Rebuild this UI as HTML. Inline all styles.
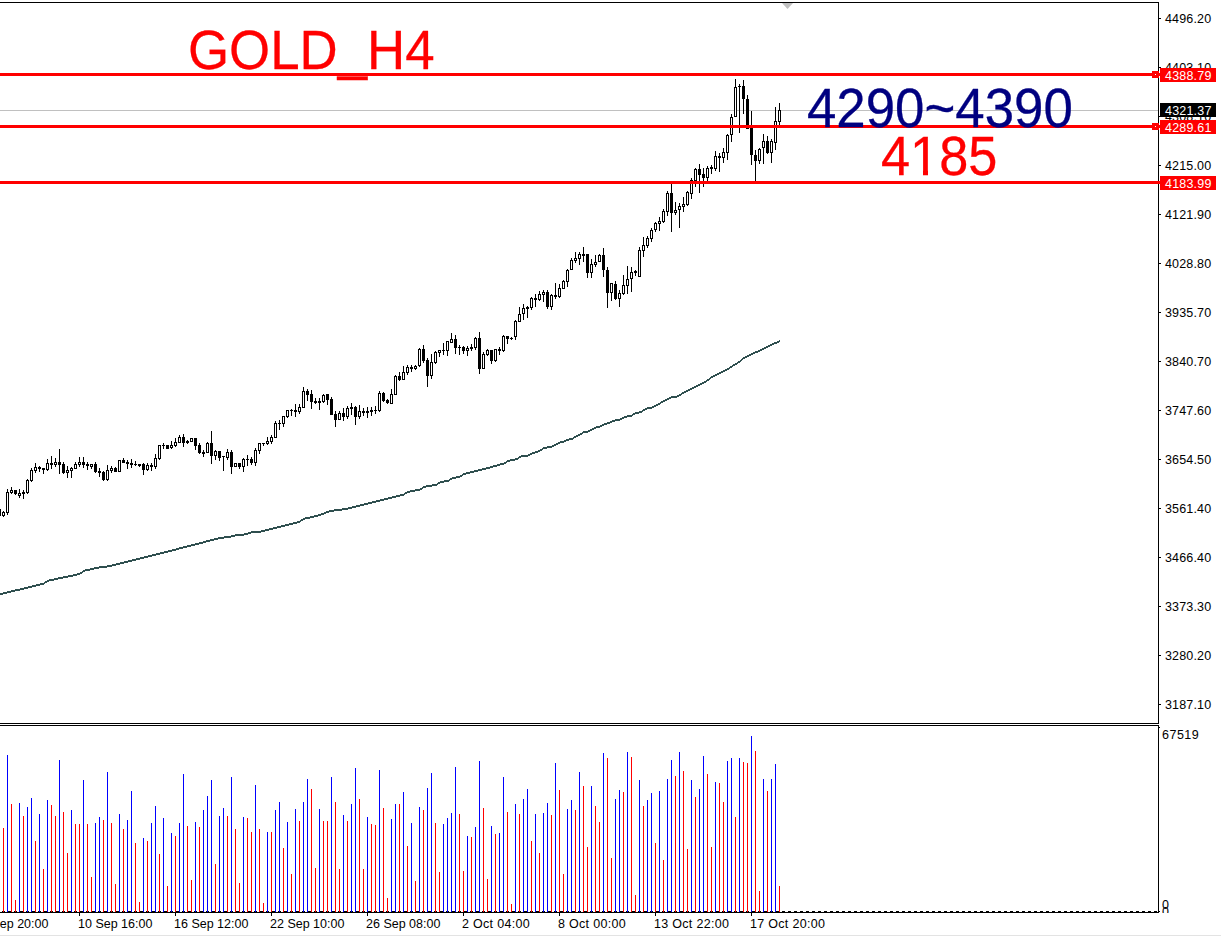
<!DOCTYPE html>
<html><head><meta charset="utf-8"><title>GOLD_H4</title>
<style>
html,body{margin:0;padding:0;background:#fff;}
body{width:1221px;height:937px;position:relative;overflow:hidden;font-family:"Liberation Sans",sans-serif;}
.pl{position:absolute;left:1165px;font-size:12.5px;line-height:14px;height:14px;color:#000;white-space:nowrap;letter-spacing:0.15px;}
.bx{position:absolute;left:1160px;width:56px;height:14px;font-size:12.5px;line-height:14px;color:#fff;white-space:nowrap;box-sizing:border-box;padding-left:5px;padding-top:1px;overflow:hidden;letter-spacing:0.2px;}
.tl{position:absolute;top:917px;font-size:12.5px;line-height:14px;color:#000;white-space:nowrap;letter-spacing:0.2px;margin-left:-1px;}
.big{position:absolute;font-size:55.6px;line-height:60px;white-space:nowrap;transform:scaleX(0.95);transform-origin:0 0;-webkit-text-stroke:0.3px currentColor;}
</style></head><body>
<svg width="1221" height="937" viewBox="0 0 1221 937" style="position:absolute;left:0;top:0">
<g shape-rendering="crispEdges">
<rect x="0" y="2" width="1159" height="1" fill="#000"/>
<rect x="1158" y="2" width="1" height="722" fill="#000"/>
<rect x="0" y="723" width="1159" height="1" fill="#000"/>
<rect x="0" y="725" width="1159" height="1" fill="#000"/>
<rect x="1158" y="725" width="1" height="188" fill="#000"/>
<rect x="0" y="912" width="1159" height="1" fill="#000"/>
<rect x="1159" y="727" width="1" height="1" fill="#000"/>
<rect x="1159" y="911" width="1" height="1" fill="#000"/>
<rect x="0" y="935" width="1221" height="1" fill="#e3e3e3"/>
<path d="M782 3h11l-5.5 6z" fill="#c0c0c0" shape-rendering="auto"/>
<rect x="0" y="110" width="1158" height="1" fill="#c0c0c0"/>
<rect x="1159" y="18" width="2" height="1" fill="#000"/>
<rect x="1159" y="67" width="2" height="1" fill="#000"/>
<rect x="1159" y="116" width="2" height="1" fill="#000"/>
<rect x="1159" y="165" width="2" height="1" fill="#000"/>
<rect x="1159" y="214" width="2" height="1" fill="#000"/>
<rect x="1159" y="263" width="2" height="1" fill="#000"/>
<rect x="1159" y="312" width="2" height="1" fill="#000"/>
<rect x="1159" y="361" width="2" height="1" fill="#000"/>
<rect x="1159" y="410" width="2" height="1" fill="#000"/>
<rect x="1159" y="459" width="2" height="1" fill="#000"/>
<rect x="1159" y="508" width="2" height="1" fill="#000"/>
<rect x="1159" y="557" width="2" height="1" fill="#000"/>
<rect x="1159" y="606" width="2" height="1" fill="#000"/>
<rect x="1159" y="655" width="2" height="1" fill="#000"/>
<rect x="1159" y="704" width="2" height="1" fill="#000"/>
<rect x="79" y="913" width="1" height="3" fill="#000"/>
<rect x="175" y="913" width="1" height="3" fill="#000"/>
<rect x="271" y="913" width="1" height="3" fill="#000"/>
<rect x="367" y="913" width="1" height="3" fill="#000"/>
<rect x="463" y="913" width="1" height="3" fill="#000"/>
<rect x="559" y="913" width="1" height="3" fill="#000"/>
<rect x="655" y="913" width="1" height="3" fill="#000"/>
<rect x="751" y="913" width="1" height="3" fill="#000"/>
<path d="M0 509h1v7h-1zM3 511h1v6h-1zM2 512h3v4h-3zM7 489h1v26h-1zM6 492h3v21h-3zM11 487h1v7h-1zM10 490h3v3h-3zM15 490h1v5h-1zM14 490h3v4h-3zM19 489h1v9h-1zM18 493h3v3h-3zM23 490h1v9h-1zM22 492h3v2h-3zM27 479h1v15h-1zM26 480h3v13h-3zM31 468h1v14h-1zM30 470h3v11h-3zM35 463h1v10h-1zM34 467h3v4h-3zM39 466h1v6h-1zM38 467h3v2h-3zM43 468h1v6h-1zM42 468h3v2h-3zM47 459h1v12h-1zM46 463h3v7h-3zM51 456h1v13h-1zM50 463h3v2h-3zM55 458h1v9h-1zM54 462h3v3h-3zM59 449h1v25h-1zM58 462h3v3h-3zM63 462h1v12h-1zM62 464h3v9h-3zM67 466h1v12h-1zM66 470h3v3h-3zM71 467h1v11h-1zM70 468h3v3h-3zM75 462h1v7h-1zM74 464h3v5h-3zM79 457h1v10h-1zM78 462h3v3h-3zM83 457h1v11h-1zM82 462h3v3h-3zM87 462h1v8h-1zM86 464h3v2h-3zM91 464h1v5h-1zM90 464h3v3h-3zM95 462h1v11h-1zM94 464h3v8h-3zM99 468h1v9h-1zM98 471h3v2h-3zM103 471h1v10h-1zM102 472h3v8h-3zM107 465h1v16h-1zM106 470h3v10h-3zM111 466h1v7h-1zM110 468h3v3h-3zM115 467h1v5h-1zM114 468h3v4h-3zM119 460h1v12h-1zM118 460h3v12h-3zM123 458h1v5h-1zM122 460h3v3h-3zM127 460h1v9h-1zM126 462h3v2h-3zM131 459h1v9h-1zM130 463h3v2h-3zM135 461h1v5h-1zM134 464h3v1h-3zM139 464h1v3h-1zM138 464h3v2h-3zM143 463h1v12h-1zM142 464h3v6h-3zM147 463h1v8h-1zM146 465h3v5h-3zM151 463h1v8h-1zM150 465h3v2h-3zM155 454h1v15h-1zM154 458h3v9h-3zM159 445h1v15h-1zM158 445h3v14h-3zM163 443h1v6h-1zM162 445h3v1h-3zM167 445h1v4h-1zM166 445h3v4h-3zM171 441h1v8h-1zM170 445h3v3h-3zM175 438h1v9h-1zM174 442h3v4h-3zM179 435h1v8h-1zM178 437h3v6h-3zM183 434h1v13h-1zM182 437h3v6h-3zM187 440h1v4h-1zM186 441h3v2h-3zM191 438h1v4h-1zM190 438h3v4h-3zM195 438h1v12h-1zM194 438h3v8h-3zM199 443h1v11h-1zM198 445h3v8h-3zM203 450h1v7h-1zM202 452h3v2h-3zM207 442h1v11h-1zM206 443h3v10h-3zM211 431h1v33h-1zM210 443h3v13h-3zM215 450h1v10h-1zM214 451h3v5h-3zM219 451h1v10h-1zM218 451h3v7h-3zM223 456h1v15h-1zM222 456h3v1h-3zM227 449h1v11h-1zM226 452h3v6h-3zM231 450h1v24h-1zM230 452h3v15h-3zM235 463h1v4h-1zM234 463h3v4h-3zM239 463h1v6h-1zM238 463h3v4h-3zM243 458h1v14h-1zM242 459h3v8h-3zM247 455h1v11h-1zM246 459h3v1h-3zM251 457h1v8h-1zM250 459h3v4h-3zM255 448h1v18h-1zM254 450h3v13h-3zM259 443h1v11h-1zM258 443h3v8h-3zM263 443h1v3h-1zM262 443h3v1h-3zM267 437h1v8h-1zM266 441h3v3h-3zM271 435h1v9h-1zM270 437h3v5h-3zM275 421h1v17h-1zM274 423h3v15h-3zM279 420h1v10h-1zM278 423h3v1h-3zM283 416h1v11h-1zM282 416h3v8h-3zM287 410h1v8h-1zM286 410h3v7h-3zM291 409h1v7h-1zM290 410h3v1h-3zM295 404h1v13h-1zM294 410h3v2h-3zM299 404h1v10h-1zM298 407h3v5h-3zM303 387h1v21h-1zM302 391h3v17h-3zM307 389h1v12h-1zM306 391h3v4h-3zM311 390h1v19h-1zM310 394h3v8h-3zM315 398h1v6h-1zM314 401h3v2h-3zM319 398h1v12h-1zM318 401h3v2h-3zM323 394h1v9h-1zM322 395h3v7h-3zM327 394h1v11h-1zM326 394h3v6h-3zM331 397h1v18h-1zM330 399h3v16h-3zM335 411h1v16h-1zM334 414h3v6h-3zM339 411h1v9h-1zM338 413h3v7h-3zM343 408h1v13h-1zM342 413h3v4h-3zM347 406h1v13h-1zM346 408h3v9h-3zM351 403h1v12h-1zM350 407h3v2h-3zM355 406h1v19h-1zM354 407h3v10h-3zM359 405h1v14h-1zM358 411h3v6h-3zM363 408h1v8h-1zM362 411h3v2h-3zM367 407h1v11h-1zM366 411h3v2h-3zM371 407h1v9h-1zM370 410h3v2h-3zM375 406h1v8h-1zM374 410h3v1h-3zM379 391h1v21h-1zM378 393h3v18h-3zM383 392h1v10h-1zM382 393h3v8h-3zM387 399h1v5h-1zM386 400h3v3h-3zM391 389h1v15h-1zM390 394h3v10h-3zM395 375h1v20h-1zM394 376h3v19h-3zM399 372h1v9h-1zM398 376h3v4h-3zM403 366h1v14h-1zM402 372h3v8h-3zM407 365h1v10h-1zM406 367h3v6h-3zM411 365h1v7h-1zM410 367h3v2h-3zM415 365h1v5h-1zM414 366h3v3h-3zM419 348h1v19h-1zM418 349h3v17h-3zM423 345h1v18h-1zM422 349h3v12h-3zM427 358h1v29h-1zM426 360h3v16h-3zM431 354h1v25h-1zM430 362h3v14h-3zM435 351h1v13h-1zM434 352h3v11h-3zM439 350h1v7h-1zM438 350h3v3h-3zM443 343h1v12h-1zM442 350h3v1h-3zM447 341h1v15h-1zM446 341h3v10h-3zM451 333h1v10h-1zM450 339h3v4h-3zM455 335h1v19h-1zM454 339h3v9h-3zM459 345h1v10h-1zM458 347h3v1h-3zM463 346h1v8h-1zM462 347h3v4h-3zM467 346h1v10h-1zM466 348h3v3h-3zM471 344h1v7h-1zM470 347h3v2h-3zM475 337h1v13h-1zM474 338h3v10h-3zM479 332h1v42h-1zM478 338h3v31h-3zM483 352h1v17h-1zM482 354h3v15h-3zM487 349h1v7h-1zM486 350h3v5h-3zM491 350h1v14h-1zM490 350h3v11h-3zM495 349h1v13h-1zM494 349h3v12h-3zM499 347h1v8h-1zM498 349h3v2h-3zM503 335h1v17h-1zM502 336h3v15h-3zM507 336h1v8h-1zM506 336h3v3h-3zM511 337h1v3h-1zM510 338h3v1h-3zM515 320h1v20h-1zM514 321h3v16h-3zM519 307h1v15h-1zM518 314h3v8h-3zM523 304h1v16h-1zM522 308h3v6h-3zM527 306h1v12h-1zM526 307h3v2h-3zM531 297h1v13h-1zM530 298h3v10h-3zM535 294h1v13h-1zM534 298h3v2h-3zM539 291h1v10h-1zM538 294h3v6h-3zM543 290h1v12h-1zM542 292h3v3h-3zM547 290h1v19h-1zM546 292h3v15h-3zM551 294h1v16h-1zM550 295h3v12h-3zM555 283h1v16h-1zM554 295h3v2h-3zM559 284h1v14h-1zM558 288h3v9h-3zM563 280h1v9h-1zM562 281h3v8h-3zM567 269h1v18h-1zM566 270h3v12h-3zM571 258h1v12h-1zM570 260h3v10h-3zM575 252h1v11h-1zM574 258h3v3h-3zM579 252h1v13h-1zM578 254h3v5h-3zM583 247h1v15h-1zM582 254h3v2h-3zM587 254h1v24h-1zM586 254h3v19h-3zM591 259h1v19h-1zM590 264h3v9h-3zM595 255h1v12h-1zM594 262h3v3h-3zM599 254h1v8h-1zM598 255h3v7h-3zM603 248h1v29h-1zM602 255h3v15h-3zM607 267h1v41h-1zM606 270h3v23h-3zM611 283h1v18h-1zM610 283h3v10h-3zM615 281h1v19h-1zM614 284h3v15h-3zM619 290h1v17h-1zM618 293h3v6h-3zM623 275h1v20h-1zM622 285h3v9h-3zM627 266h1v28h-1zM626 279h3v7h-3zM631 267h1v25h-1zM630 272h3v7h-3zM635 270h1v6h-1zM634 271h3v2h-3zM639 247h1v30h-1zM638 250h3v27h-3zM643 237h1v20h-1zM642 245h3v6h-3zM647 236h1v12h-1zM646 238h3v8h-3zM651 228h1v14h-1zM650 230h3v9h-3zM655 222h1v10h-1zM654 223h3v7h-3zM659 217h1v14h-1zM658 221h3v3h-3zM663 209h1v14h-1zM662 211h3v11h-3zM667 191h1v25h-1zM666 193h3v19h-3zM671 184h1v48h-1zM670 193h3v20h-3zM675 202h1v13h-1zM674 210h3v3h-3zM679 203h1v25h-1zM678 206h3v4h-3zM683 197h1v15h-1zM682 204h3v3h-3zM687 191h1v15h-1zM686 192h3v13h-3zM691 178h1v21h-1zM690 180h3v14h-3zM695 168h1v19h-1zM694 169h3v12h-3zM699 164h1v29h-1zM698 169h3v6h-3zM703 168h1v19h-1zM702 174h3v4h-3zM707 166h1v15h-1zM706 168h3v10h-3zM711 165h1v9h-1zM710 167h3v2h-3zM715 151h1v20h-1zM714 156h3v13h-3zM719 153h1v19h-1zM718 156h3v2h-3zM723 148h1v15h-1zM722 152h3v6h-3zM727 134h1v26h-1zM726 135h3v18h-3zM731 114h1v28h-1zM730 117h3v18h-3zM735 79h1v38h-1zM734 87h3v30h-3zM739 84h1v49h-1zM738 86h3v1h-3zM743 80h1v34h-1zM742 86h3v13h-3zM747 95h1v34h-1zM746 99h3v30h-3zM751 111h1v54h-1zM750 128h3v27h-3zM755 150h1v31h-1zM754 155h3v6h-3zM759 148h1v16h-1zM758 149h3v12h-3zM763 134h1v30h-1zM762 141h3v7h-3zM767 136h1v18h-1zM766 141h3v12h-3zM771 139h1v24h-1zM770 141h3v12h-3zM775 107h1v43h-1zM774 121h3v22h-3zM779 103h1v22h-1zM778 110h3v12h-3z" fill="#000"/>
<path d="M3 513h1v2h-1zM7 493h1v19h-1zM11 491h1v1h-1zM19 494h1v1h-1zM27 481h1v11h-1zM31 471h1v9h-1zM35 468h1v2h-1zM47 464h1v5h-1zM55 463h1v1h-1zM67 471h1v1h-1zM71 469h1v1h-1zM75 465h1v3h-1zM79 463h1v1h-1zM91 465h1v1h-1zM107 471h1v8h-1zM111 469h1v1h-1zM119 461h1v10h-1zM147 466h1v3h-1zM155 459h1v7h-1zM159 446h1v12h-1zM171 446h1v1h-1zM175 443h1v2h-1zM179 438h1v4h-1zM191 439h1v2h-1zM207 444h1v8h-1zM215 452h1v3h-1zM227 453h1v4h-1zM235 464h1v2h-1zM243 460h1v6h-1zM255 451h1v11h-1zM259 444h1v6h-1zM267 442h1v1h-1zM271 438h1v3h-1zM275 424h1v13h-1zM283 417h1v6h-1zM287 411h1v5h-1zM299 408h1v3h-1zM303 392h1v15h-1zM323 396h1v5h-1zM339 414h1v5h-1zM347 409h1v7h-1zM359 412h1v4h-1zM379 394h1v16h-1zM391 395h1v8h-1zM395 377h1v17h-1zM403 373h1v6h-1zM407 368h1v4h-1zM415 367h1v1h-1zM419 350h1v15h-1zM431 363h1v12h-1zM435 353h1v9h-1zM439 351h1v1h-1zM447 342h1v8h-1zM451 340h1v2h-1zM467 349h1v1h-1zM475 339h1v8h-1zM483 355h1v13h-1zM487 351h1v3h-1zM495 350h1v10h-1zM503 337h1v13h-1zM515 322h1v14h-1zM519 315h1v6h-1zM523 309h1v4h-1zM531 299h1v8h-1zM539 295h1v4h-1zM543 293h1v1h-1zM551 296h1v10h-1zM559 289h1v7h-1zM563 282h1v6h-1zM567 271h1v10h-1zM571 261h1v8h-1zM575 259h1v1h-1zM579 255h1v3h-1zM591 265h1v7h-1zM595 263h1v1h-1zM599 256h1v5h-1zM611 284h1v8h-1zM619 294h1v4h-1zM623 286h1v7h-1zM627 280h1v5h-1zM631 273h1v5h-1zM639 251h1v25h-1zM643 246h1v4h-1zM647 239h1v6h-1zM651 231h1v7h-1zM655 224h1v5h-1zM659 222h1v1h-1zM663 212h1v9h-1zM667 194h1v17h-1zM675 211h1v1h-1zM679 207h1v2h-1zM683 205h1v1h-1zM687 193h1v11h-1zM691 181h1v12h-1zM695 170h1v10h-1zM707 169h1v8h-1zM715 157h1v11h-1zM723 153h1v4h-1zM727 136h1v16h-1zM731 118h1v16h-1zM735 88h1v28h-1zM759 150h1v10h-1zM763 142h1v5h-1zM771 142h1v10h-1zM775 122h1v20h-1zM779 111h1v10h-1z" fill="#fff"/>
<path d="M2 911h3v1h-3zM8 911h3v1h-3zM14 911h3v1h-3zM20 911h3v1h-3zM26 911h3v1h-3zM32 911h3v1h-3zM38 911h3v1h-3zM44 911h3v1h-3zM50 911h3v1h-3zM56 911h3v1h-3zM62 911h3v1h-3zM68 911h3v1h-3zM74 911h3v1h-3zM80 911h3v1h-3zM86 911h3v1h-3zM92 911h3v1h-3zM98 911h3v1h-3zM104 911h3v1h-3zM110 911h3v1h-3zM116 911h3v1h-3zM122 911h3v1h-3zM128 911h3v1h-3zM134 911h3v1h-3zM140 911h3v1h-3zM146 911h3v1h-3zM152 911h3v1h-3zM158 911h3v1h-3zM164 911h3v1h-3zM170 911h3v1h-3zM176 911h3v1h-3zM182 911h3v1h-3zM188 911h3v1h-3zM194 911h3v1h-3zM200 911h3v1h-3zM206 911h3v1h-3zM212 911h3v1h-3zM218 911h3v1h-3zM224 911h3v1h-3zM230 911h3v1h-3zM236 911h3v1h-3zM242 911h3v1h-3zM248 911h3v1h-3zM254 911h3v1h-3zM260 911h3v1h-3zM266 911h3v1h-3zM272 911h3v1h-3zM278 911h3v1h-3zM284 911h3v1h-3zM290 911h3v1h-3zM296 911h3v1h-3zM302 911h3v1h-3zM308 911h3v1h-3zM314 911h3v1h-3zM320 911h3v1h-3zM326 911h3v1h-3zM332 911h3v1h-3zM338 911h3v1h-3zM344 911h3v1h-3zM350 911h3v1h-3zM356 911h3v1h-3zM362 911h3v1h-3zM368 911h3v1h-3zM374 911h3v1h-3zM380 911h3v1h-3zM386 911h3v1h-3zM392 911h3v1h-3zM398 911h3v1h-3zM404 911h3v1h-3zM410 911h3v1h-3zM416 911h3v1h-3zM422 911h3v1h-3zM428 911h3v1h-3zM434 911h3v1h-3zM440 911h3v1h-3zM446 911h3v1h-3zM452 911h3v1h-3zM458 911h3v1h-3zM464 911h3v1h-3zM470 911h3v1h-3zM476 911h3v1h-3zM482 911h3v1h-3zM488 911h3v1h-3zM494 911h3v1h-3zM500 911h3v1h-3zM506 911h3v1h-3zM512 911h3v1h-3zM518 911h3v1h-3zM524 911h3v1h-3zM530 911h3v1h-3zM536 911h3v1h-3zM542 911h3v1h-3zM548 911h3v1h-3zM554 911h3v1h-3zM560 911h3v1h-3zM566 911h3v1h-3zM572 911h3v1h-3zM578 911h3v1h-3zM584 911h3v1h-3zM590 911h3v1h-3zM596 911h3v1h-3zM602 911h3v1h-3zM608 911h3v1h-3zM614 911h3v1h-3zM620 911h3v1h-3zM626 911h3v1h-3zM632 911h3v1h-3zM638 911h3v1h-3zM644 911h3v1h-3zM650 911h3v1h-3zM656 911h3v1h-3zM662 911h3v1h-3zM668 911h3v1h-3zM674 911h3v1h-3zM680 911h3v1h-3zM686 911h3v1h-3zM692 911h3v1h-3zM698 911h3v1h-3zM704 911h3v1h-3zM710 911h3v1h-3zM716 911h3v1h-3zM722 911h3v1h-3zM728 911h3v1h-3zM734 911h3v1h-3zM740 911h3v1h-3zM746 911h3v1h-3zM752 911h3v1h-3zM758 911h3v1h-3zM764 911h3v1h-3zM770 911h3v1h-3zM776 911h3v1h-3zM782 911h3v1h-3zM788 911h3v1h-3zM794 911h3v1h-3zM800 911h3v1h-3zM806 911h3v1h-3zM812 911h3v1h-3zM818 911h3v1h-3zM824 911h3v1h-3zM830 911h3v1h-3zM836 911h3v1h-3zM842 911h3v1h-3zM848 911h3v1h-3zM854 911h3v1h-3zM860 911h3v1h-3zM866 911h3v1h-3zM872 911h3v1h-3zM878 911h3v1h-3zM884 911h3v1h-3zM890 911h3v1h-3zM896 911h3v1h-3zM902 911h3v1h-3zM908 911h3v1h-3zM914 911h3v1h-3zM920 911h3v1h-3zM926 911h3v1h-3zM932 911h3v1h-3zM938 911h3v1h-3zM944 911h3v1h-3zM950 911h3v1h-3zM956 911h3v1h-3zM962 911h3v1h-3zM968 911h3v1h-3zM974 911h3v1h-3zM980 911h3v1h-3zM986 911h3v1h-3zM992 911h3v1h-3zM998 911h3v1h-3zM1004 911h3v1h-3zM1010 911h3v1h-3zM1016 911h3v1h-3zM1022 911h3v1h-3zM1028 911h3v1h-3zM1034 911h3v1h-3zM1040 911h3v1h-3zM1046 911h3v1h-3zM1052 911h3v1h-3zM1058 911h3v1h-3zM1064 911h3v1h-3zM1070 911h3v1h-3zM1076 911h3v1h-3zM1082 911h3v1h-3zM1088 911h3v1h-3zM1094 911h3v1h-3zM1100 911h3v1h-3zM1106 911h3v1h-3zM1112 911h3v1h-3zM1118 911h3v1h-3zM1124 911h3v1h-3zM1130 911h3v1h-3zM1136 911h3v1h-3zM1142 911h3v1h-3zM1148 911h3v1h-3zM1154 911h3v1h-3z" fill="#000"/>
<path d="M7 755h1v157h-1zM19 803h1v109h-1zM27 807h1v105h-1zM31 798h1v114h-1zM39 814h1v98h-1zM47 800h1v112h-1zM59 760h1v152h-1zM71 810h1v102h-1zM83 780h1v132h-1zM95 823h1v89h-1zM99 817h1v95h-1zM107 772h1v140h-1zM119 814h1v98h-1zM127 820h1v92h-1zM131 791h1v121h-1zM143 838h1v74h-1zM151 823h1v89h-1zM155 806h1v106h-1zM163 818h1v94h-1zM171 833h1v79h-1zM179 823h1v89h-1zM183 774h1v138h-1zM195 822h1v90h-1zM203 810h1v102h-1zM207 796h1v116h-1zM211 780h1v132h-1zM219 816h1v96h-1zM223 808h1v104h-1zM231 777h1v135h-1zM243 817h1v95h-1zM255 785h1v127h-1zM267 832h1v80h-1zM275 810h1v102h-1zM279 802h1v110h-1zM287 822h1v90h-1zM295 809h1v103h-1zM303 802h1v110h-1zM307 779h1v133h-1zM319 809h1v103h-1zM331 777h1v135h-1zM343 815h1v97h-1zM351 804h1v108h-1zM355 768h1v144h-1zM367 817h1v95h-1zM379 770h1v142h-1zM391 819h1v93h-1zM395 804h1v108h-1zM403 792h1v120h-1zM411 823h1v89h-1zM419 807h1v105h-1zM427 788h1v124h-1zM431 773h1v139h-1zM443 824h1v88h-1zM447 818h1v94h-1zM451 813h1v99h-1zM455 767h1v145h-1zM467 836h1v76h-1zM475 827h1v85h-1zM479 761h1v151h-1zM491 826h1v86h-1zM499 833h1v79h-1zM503 777h1v135h-1zM515 804h1v108h-1zM523 799h1v113h-1zM527 789h1v123h-1zM535 814h1v98h-1zM543 813h1v99h-1zM547 803h1v109h-1zM555 763h1v149h-1zM567 809h1v103h-1zM571 800h1v112h-1zM579 772h1v140h-1zM591 786h1v126h-1zM603 753h1v159h-1zM615 799h1v113h-1zM619 790h1v122h-1zM627 752h1v160h-1zM639 780h1v132h-1zM647 800h1v112h-1zM651 793h1v119h-1zM659 791h1v121h-1zM667 779h1v133h-1zM671 760h1v152h-1zM679 752h1v160h-1zM691 780h1v132h-1zM699 789h1v123h-1zM703 756h1v156h-1zM715 782h1v130h-1zM727 761h1v151h-1zM731 758h1v154h-1zM739 758h1v154h-1zM751 736h1v176h-1zM763 779h1v133h-1zM771 779h1v133h-1zM775 764h1v148h-1z" fill="#0000ff"/>
<path d="M3 828h1v84h-1zM11 804h1v108h-1zM15 900h1v12h-1zM23 816h1v96h-1zM35 841h1v71h-1zM43 869h1v43h-1zM51 805h1v107h-1zM55 816h1v96h-1zM63 812h1v100h-1zM67 853h1v59h-1zM75 824h1v88h-1zM79 824h1v88h-1zM87 824h1v88h-1zM91 877h1v35h-1zM103 820h1v92h-1zM111 823h1v89h-1zM115 884h1v28h-1zM123 829h1v83h-1zM135 843h1v69h-1zM139 902h1v10h-1zM147 841h1v71h-1zM159 854h1v58h-1zM167 886h1v26h-1zM175 836h1v76h-1zM187 826h1v86h-1zM191 880h1v32h-1zM199 827h1v85h-1zM215 864h1v48h-1zM227 816h1v96h-1zM235 829h1v83h-1zM239 883h1v29h-1zM247 818h1v94h-1zM251 832h1v80h-1zM259 829h1v83h-1zM263 903h1v9h-1zM271 832h1v80h-1zM283 848h1v64h-1zM291 874h1v38h-1zM299 821h1v91h-1zM311 789h1v123h-1zM315 868h1v44h-1zM323 821h1v91h-1zM327 821h1v91h-1zM335 802h1v110h-1zM339 869h1v43h-1zM347 821h1v91h-1zM359 799h1v113h-1zM363 869h1v43h-1zM371 824h1v88h-1zM375 825h1v87h-1zM383 808h1v104h-1zM387 898h1v14h-1zM399 804h1v108h-1zM407 846h1v66h-1zM415 881h1v31h-1zM423 810h1v102h-1zM435 823h1v89h-1zM439 872h1v40h-1zM459 814h1v98h-1zM463 871h1v41h-1zM471 837h1v75h-1zM483 808h1v104h-1zM487 879h1v33h-1zM495 834h1v78h-1zM507 812h1v100h-1zM511 904h1v8h-1zM519 814h1v98h-1zM531 841h1v71h-1zM539 853h1v59h-1zM551 815h1v97h-1zM559 790h1v122h-1zM563 874h1v38h-1zM575 810h1v102h-1zM583 786h1v126h-1zM587 847h1v65h-1zM595 806h1v106h-1zM599 822h1v90h-1zM607 758h1v154h-1zM611 858h1v54h-1zM623 792h1v120h-1zM631 757h1v155h-1zM635 895h1v17h-1zM643 806h1v106h-1zM655 843h1v69h-1zM663 860h1v52h-1zM675 776h1v136h-1zM683 771h1v141h-1zM687 849h1v63h-1zM695 797h1v115h-1zM707 774h1v138h-1zM711 847h1v65h-1zM719 783h1v129h-1zM723 802h1v110h-1zM735 817h1v95h-1zM743 762h1v150h-1zM747 763h1v149h-1zM755 751h1v161h-1zM759 891h1v21h-1zM767 791h1v121h-1zM779 886h1v26h-1z" fill="#ff0000"/>
</g>
<path shape-rendering="crispEdges" d="M0 593h1v2h-1zM1 593h1v2h-1zM2 593h1v2h-1zM3 592h1v2h-1zM4 592h1v2h-1zM5 592h1v2h-1zM6 592h1v2h-1zM7 591h1v2h-1zM8 591h1v2h-1zM9 591h1v2h-1zM10 591h1v2h-1zM11 590h1v2h-1zM12 590h1v2h-1zM13 590h1v2h-1zM14 590h1v2h-1zM15 589h1v2h-1zM16 589h1v2h-1zM17 589h1v2h-1zM18 589h1v2h-1zM19 589h1v2h-1zM20 588h1v2h-1zM21 588h1v2h-1zM22 588h1v2h-1zM23 588h1v2h-1zM24 587h1v2h-1zM25 587h1v2h-1zM26 587h1v2h-1zM27 587h1v2h-1zM28 586h1v2h-1zM29 586h1v2h-1zM30 586h1v2h-1zM31 586h1v2h-1zM32 585h1v2h-1zM33 585h1v2h-1zM34 585h1v2h-1zM35 585h1v2h-1zM36 584h1v2h-1zM37 584h1v2h-1zM38 584h1v2h-1zM39 584h1v2h-1zM40 583h1v2h-1zM41 583h1v2h-1zM42 583h1v2h-1zM43 583h1v2h-1zM44 582h1v2h-1zM45 581h1v2h-1zM46 581h1v2h-1zM47 580h1v2h-1zM48 580h1v2h-1zM49 579h1v2h-1zM50 579h1v2h-1zM51 579h1v2h-1zM52 579h1v2h-1zM53 579h1v2h-1zM54 578h1v2h-1zM55 578h1v2h-1zM56 578h1v2h-1zM57 578h1v2h-1zM58 577h1v2h-1zM59 577h1v2h-1zM60 577h1v2h-1zM61 577h1v2h-1zM62 577h1v2h-1zM63 576h1v2h-1zM64 576h1v2h-1zM65 576h1v2h-1zM66 576h1v2h-1zM67 576h1v2h-1zM68 575h1v2h-1zM69 575h1v2h-1zM70 575h1v2h-1zM71 575h1v2h-1zM72 575h1v2h-1zM73 574h1v2h-1zM74 574h1v2h-1zM75 574h1v2h-1zM76 574h1v2h-1zM77 573h1v2h-1zM78 573h1v2h-1zM79 573h1v2h-1zM80 572h1v2h-1zM81 572h1v2h-1zM82 571h1v2h-1zM83 570h1v2h-1zM84 570h1v2h-1zM85 569h1v2h-1zM86 569h1v2h-1zM87 569h1v2h-1zM88 569h1v2h-1zM89 569h1v2h-1zM90 568h1v2h-1zM91 568h1v2h-1zM92 568h1v2h-1zM93 568h1v2h-1zM94 567h1v2h-1zM95 567h1v2h-1zM96 567h1v2h-1zM97 567h1v2h-1zM98 567h1v2h-1zM99 566h1v2h-1zM100 566h1v2h-1zM101 566h1v2h-1zM102 566h1v2h-1zM103 566h1v2h-1zM104 566h1v2h-1zM105 566h1v2h-1zM106 566h1v2h-1zM107 565h1v2h-1zM108 565h1v2h-1zM109 565h1v2h-1zM110 565h1v2h-1zM111 565h1v2h-1zM112 564h1v2h-1zM113 564h1v2h-1zM114 564h1v2h-1zM115 564h1v2h-1zM116 563h1v2h-1zM117 563h1v2h-1zM118 563h1v2h-1zM119 563h1v2h-1zM120 562h1v2h-1zM121 562h1v2h-1zM122 562h1v2h-1zM123 562h1v2h-1zM124 561h1v2h-1zM125 561h1v2h-1zM126 561h1v2h-1zM127 561h1v2h-1zM128 560h1v2h-1zM129 560h1v2h-1zM130 560h1v2h-1zM131 560h1v2h-1zM132 559h1v2h-1zM133 559h1v2h-1zM134 559h1v2h-1zM135 559h1v2h-1zM136 558h1v2h-1zM137 558h1v2h-1zM138 558h1v2h-1zM139 558h1v2h-1zM140 557h1v2h-1zM141 557h1v2h-1zM142 557h1v2h-1zM143 557h1v2h-1zM144 556h1v2h-1zM145 556h1v2h-1zM146 556h1v2h-1zM147 556h1v2h-1zM148 555h1v2h-1zM149 555h1v2h-1zM150 555h1v2h-1zM151 555h1v2h-1zM152 554h1v2h-1zM153 554h1v2h-1zM154 554h1v2h-1zM155 554h1v2h-1zM156 553h1v2h-1zM157 553h1v2h-1zM158 553h1v2h-1zM159 553h1v2h-1zM160 552h1v2h-1zM161 552h1v2h-1zM162 552h1v2h-1zM163 552h1v2h-1zM164 551h1v2h-1zM165 551h1v2h-1zM166 551h1v2h-1zM167 551h1v2h-1zM168 550h1v2h-1zM169 550h1v2h-1zM170 550h1v2h-1zM171 550h1v2h-1zM172 549h1v2h-1zM173 549h1v2h-1zM174 549h1v2h-1zM175 549h1v2h-1zM176 548h1v2h-1zM177 548h1v2h-1zM178 548h1v2h-1zM179 547h1v2h-1zM180 547h1v2h-1zM181 547h1v2h-1zM182 547h1v2h-1zM183 546h1v2h-1zM184 546h1v2h-1zM185 546h1v2h-1zM186 546h1v2h-1zM187 545h1v2h-1zM188 545h1v2h-1zM189 545h1v2h-1zM190 545h1v2h-1zM191 544h1v2h-1zM192 544h1v2h-1zM193 544h1v2h-1zM194 544h1v2h-1zM195 543h1v2h-1zM196 543h1v2h-1zM197 543h1v2h-1zM198 543h1v2h-1zM199 542h1v2h-1zM200 542h1v2h-1zM201 542h1v2h-1zM202 542h1v2h-1zM203 541h1v2h-1zM204 541h1v2h-1zM205 541h1v2h-1zM206 540h1v2h-1zM207 540h1v2h-1zM208 540h1v2h-1zM209 540h1v2h-1zM210 539h1v2h-1zM211 539h1v2h-1zM212 539h1v2h-1zM213 539h1v2h-1zM214 538h1v2h-1zM215 538h1v2h-1zM216 538h1v2h-1zM217 538h1v2h-1zM218 537h1v2h-1zM219 537h1v2h-1zM220 537h1v2h-1zM221 537h1v2h-1zM222 537h1v2h-1zM223 537h1v2h-1zM224 536h1v2h-1zM225 536h1v2h-1zM226 536h1v2h-1zM227 536h1v2h-1zM228 536h1v2h-1zM229 536h1v2h-1zM230 536h1v2h-1zM231 535h1v2h-1zM232 535h1v2h-1zM233 535h1v2h-1zM234 535h1v2h-1zM235 534h1v2h-1zM236 534h1v2h-1zM237 534h1v2h-1zM238 534h1v2h-1zM239 534h1v2h-1zM240 534h1v2h-1zM241 534h1v2h-1zM242 534h1v2h-1zM243 534h1v2h-1zM244 533h1v2h-1zM245 533h1v2h-1zM246 533h1v2h-1zM247 533h1v2h-1zM248 532h1v2h-1zM249 532h1v2h-1zM250 532h1v2h-1zM251 531h1v2h-1zM252 531h1v2h-1zM253 531h1v2h-1zM254 531h1v2h-1zM255 531h1v2h-1zM256 531h1v2h-1zM257 531h1v2h-1zM258 531h1v2h-1zM259 531h1v2h-1zM260 531h1v2h-1zM261 530h1v2h-1zM262 530h1v2h-1zM263 530h1v2h-1zM264 530h1v2h-1zM265 529h1v2h-1zM266 529h1v2h-1zM267 529h1v2h-1zM268 529h1v2h-1zM269 528h1v2h-1zM270 528h1v2h-1zM271 528h1v2h-1zM272 528h1v2h-1zM273 527h1v2h-1zM274 527h1v2h-1zM275 527h1v2h-1zM276 527h1v2h-1zM277 526h1v2h-1zM278 526h1v2h-1zM279 526h1v2h-1zM280 526h1v2h-1zM281 525h1v2h-1zM282 525h1v2h-1zM283 525h1v2h-1zM284 525h1v2h-1zM285 524h1v2h-1zM286 524h1v2h-1zM287 524h1v2h-1zM288 524h1v2h-1zM289 523h1v2h-1zM290 523h1v2h-1zM291 523h1v2h-1zM292 523h1v2h-1zM293 522h1v2h-1zM294 522h1v2h-1zM295 522h1v2h-1zM296 522h1v2h-1zM297 521h1v2h-1zM298 521h1v2h-1zM299 521h1v2h-1zM300 520h1v2h-1zM301 519h1v2h-1zM302 519h1v2h-1zM303 518h1v2h-1zM304 518h1v2h-1zM305 517h1v2h-1zM306 517h1v2h-1zM307 517h1v2h-1zM308 517h1v2h-1zM309 517h1v2h-1zM310 516h1v2h-1zM311 516h1v2h-1zM312 516h1v2h-1zM313 516h1v2h-1zM314 515h1v2h-1zM315 515h1v2h-1zM316 515h1v2h-1zM317 515h1v2h-1zM318 514h1v2h-1zM319 514h1v2h-1zM320 514h1v2h-1zM321 513h1v2h-1zM322 513h1v2h-1zM323 513h1v2h-1zM324 512h1v2h-1zM325 512h1v2h-1zM326 511h1v2h-1zM327 511h1v2h-1zM328 511h1v2h-1zM329 510h1v2h-1zM330 510h1v2h-1zM331 510h1v2h-1zM332 510h1v2h-1zM333 510h1v2h-1zM334 509h1v2h-1zM335 509h1v2h-1zM336 509h1v2h-1zM337 509h1v2h-1zM338 509h1v2h-1zM339 509h1v2h-1zM340 509h1v2h-1zM341 509h1v2h-1zM342 508h1v2h-1zM343 508h1v2h-1zM344 508h1v2h-1zM345 508h1v2h-1zM346 508h1v2h-1zM347 508h1v2h-1zM348 507h1v2h-1zM349 507h1v2h-1zM350 507h1v2h-1zM351 507h1v2h-1zM352 506h1v2h-1zM353 506h1v2h-1zM354 506h1v2h-1zM355 506h1v2h-1zM356 505h1v2h-1zM357 505h1v2h-1zM358 505h1v2h-1zM359 505h1v2h-1zM360 504h1v2h-1zM361 504h1v2h-1zM362 504h1v2h-1zM363 504h1v2h-1zM364 503h1v2h-1zM365 503h1v2h-1zM366 503h1v2h-1zM367 503h1v2h-1zM368 502h1v2h-1zM369 502h1v2h-1zM370 502h1v2h-1zM371 502h1v2h-1zM372 501h1v2h-1zM373 501h1v2h-1zM374 501h1v2h-1zM375 501h1v2h-1zM376 500h1v2h-1zM377 500h1v2h-1zM378 500h1v2h-1zM379 500h1v2h-1zM380 499h1v2h-1zM381 499h1v2h-1zM382 499h1v2h-1zM383 499h1v2h-1zM384 498h1v2h-1zM385 498h1v2h-1zM386 498h1v2h-1zM387 498h1v2h-1zM388 497h1v2h-1zM389 497h1v2h-1zM390 497h1v2h-1zM391 497h1v2h-1zM392 496h1v2h-1zM393 496h1v2h-1zM394 496h1v2h-1zM395 496h1v2h-1zM396 495h1v2h-1zM397 495h1v2h-1zM398 495h1v2h-1zM399 495h1v2h-1zM400 494h1v2h-1zM401 494h1v2h-1zM402 494h1v2h-1zM403 494h1v2h-1zM404 493h1v2h-1zM405 492h1v2h-1zM406 492h1v2h-1zM407 491h1v2h-1zM408 491h1v2h-1zM409 491h1v2h-1zM410 490h1v2h-1zM411 490h1v2h-1zM412 490h1v2h-1zM413 490h1v2h-1zM414 490h1v2h-1zM415 489h1v2h-1zM416 489h1v2h-1zM417 489h1v2h-1zM418 489h1v2h-1zM419 489h1v2h-1zM420 488h1v2h-1zM421 488h1v2h-1zM422 487h1v2h-1zM423 486h1v2h-1zM424 486h1v2h-1zM425 486h1v2h-1zM426 485h1v2h-1zM427 485h1v2h-1zM428 485h1v2h-1zM429 485h1v2h-1zM430 485h1v2h-1zM431 485h1v2h-1zM432 484h1v2h-1zM433 484h1v2h-1zM434 484h1v2h-1zM435 484h1v2h-1zM436 484h1v2h-1zM437 483h1v2h-1zM438 482h1v2h-1zM439 482h1v2h-1zM440 481h1v2h-1zM441 481h1v2h-1zM442 481h1v2h-1zM443 481h1v2h-1zM444 480h1v2h-1zM445 480h1v2h-1zM446 480h1v2h-1zM447 480h1v2h-1zM448 480h1v2h-1zM449 479h1v2h-1zM450 478h1v2h-1zM451 478h1v2h-1zM452 477h1v2h-1zM453 477h1v2h-1zM454 477h1v2h-1zM455 477h1v2h-1zM456 476h1v2h-1zM457 476h1v2h-1zM458 476h1v2h-1zM459 476h1v2h-1zM460 475h1v2h-1zM461 475h1v2h-1zM462 474h1v2h-1zM463 473h1v2h-1zM464 473h1v2h-1zM465 473h1v2h-1zM466 472h1v2h-1zM467 472h1v2h-1zM468 472h1v2h-1zM469 472h1v2h-1zM470 471h1v2h-1zM471 471h1v2h-1zM472 471h1v2h-1zM473 471h1v2h-1zM474 470h1v2h-1zM475 470h1v2h-1zM476 470h1v2h-1zM477 470h1v2h-1zM478 469h1v2h-1zM479 469h1v2h-1zM480 469h1v2h-1zM481 469h1v2h-1zM482 468h1v2h-1zM483 468h1v2h-1zM484 468h1v2h-1zM485 468h1v2h-1zM486 467h1v2h-1zM487 467h1v2h-1zM488 467h1v2h-1zM489 467h1v2h-1zM490 466h1v2h-1zM491 466h1v2h-1zM492 466h1v2h-1zM493 465h1v2h-1zM494 465h1v2h-1zM495 465h1v2h-1zM496 465h1v2h-1zM497 464h1v2h-1zM498 464h1v2h-1zM499 464h1v2h-1zM500 463h1v2h-1zM501 463h1v2h-1zM502 463h1v2h-1zM503 463h1v2h-1zM504 462h1v2h-1zM505 462h1v2h-1zM506 461h1v2h-1zM507 460h1v2h-1zM508 460h1v2h-1zM509 460h1v2h-1zM510 459h1v2h-1zM511 459h1v2h-1zM512 459h1v2h-1zM513 459h1v2h-1zM514 459h1v2h-1zM515 458h1v2h-1zM516 458h1v2h-1zM517 458h1v2h-1zM518 457h1v2h-1zM519 456h1v2h-1zM520 456h1v2h-1zM521 455h1v2h-1zM522 455h1v2h-1zM523 455h1v2h-1zM524 455h1v2h-1zM525 455h1v2h-1zM526 455h1v2h-1zM527 455h1v2h-1zM528 454h1v2h-1zM529 454h1v2h-1zM530 453h1v2h-1zM531 453h1v2h-1zM532 452h1v2h-1zM533 452h1v2h-1zM534 452h1v2h-1zM535 451h1v2h-1zM536 451h1v2h-1zM537 451h1v2h-1zM538 450h1v2h-1zM539 450h1v2h-1zM540 449h1v2h-1zM541 449h1v2h-1zM542 448h1v2h-1zM543 447h1v2h-1zM544 447h1v2h-1zM545 447h1v2h-1zM546 447h1v2h-1zM547 446h1v2h-1zM548 446h1v2h-1zM549 446h1v2h-1zM550 446h1v2h-1zM551 446h1v2h-1zM552 445h1v2h-1zM553 445h1v2h-1zM554 444h1v2h-1zM555 444h1v2h-1zM556 443h1v2h-1zM557 443h1v2h-1zM558 442h1v2h-1zM559 442h1v2h-1zM560 441h1v2h-1zM561 441h1v2h-1zM562 441h1v2h-1zM563 441h1v2h-1zM564 440h1v2h-1zM565 440h1v2h-1zM566 439h1v2h-1zM567 439h1v2h-1zM568 439h1v2h-1zM569 438h1v2h-1zM570 438h1v2h-1zM571 438h1v2h-1zM572 438h1v2h-1zM573 437h1v2h-1zM574 436h1v2h-1zM575 436h1v2h-1zM576 435h1v2h-1zM577 435h1v2h-1zM578 434h1v2h-1zM579 434h1v2h-1zM580 433h1v2h-1zM581 433h1v2h-1zM582 432h1v2h-1zM583 431h1v2h-1zM584 431h1v2h-1zM585 431h1v2h-1zM586 431h1v2h-1zM587 431h1v2h-1zM588 430h1v2h-1zM589 430h1v2h-1zM590 429h1v2h-1zM591 429h1v2h-1zM592 428h1v2h-1zM593 428h1v2h-1zM594 427h1v2h-1zM595 427h1v2h-1zM596 426h1v2h-1zM597 426h1v2h-1zM598 426h1v2h-1zM599 426h1v2h-1zM600 425h1v2h-1zM601 425h1v2h-1zM602 424h1v2h-1zM603 424h1v2h-1zM604 423h1v2h-1zM605 423h1v2h-1zM606 423h1v2h-1zM607 422h1v2h-1zM608 422h1v2h-1zM609 422h1v2h-1zM610 421h1v2h-1zM611 421h1v2h-1zM612 420h1v2h-1zM613 420h1v2h-1zM614 420h1v2h-1zM615 419h1v2h-1zM616 419h1v2h-1zM617 419h1v2h-1zM618 419h1v2h-1zM619 419h1v2h-1zM620 418h1v2h-1zM621 418h1v2h-1zM622 417h1v2h-1zM623 417h1v2h-1zM624 416h1v2h-1zM625 416h1v2h-1zM626 416h1v2h-1zM627 415h1v2h-1zM628 415h1v2h-1zM629 415h1v2h-1zM630 415h1v2h-1zM631 415h1v2h-1zM632 414h1v2h-1zM633 413h1v2h-1zM634 413h1v2h-1zM635 412h1v2h-1zM636 412h1v2h-1zM637 412h1v2h-1zM638 412h1v2h-1zM639 411h1v2h-1zM640 411h1v2h-1zM641 411h1v2h-1zM642 410h1v2h-1zM643 409h1v2h-1zM644 409h1v2h-1zM645 408h1v2h-1zM646 408h1v2h-1zM647 407h1v2h-1zM648 407h1v2h-1zM649 407h1v2h-1zM650 407h1v2h-1zM651 407h1v2h-1zM652 406h1v2h-1zM653 406h1v2h-1zM654 405h1v2h-1zM655 405h1v2h-1zM656 404h1v2h-1zM657 404h1v2h-1zM658 403h1v2h-1zM659 403h1v2h-1zM660 402h1v2h-1zM661 401h1v2h-1zM662 401h1v2h-1zM663 400h1v2h-1zM664 400h1v2h-1zM665 399h1v2h-1zM666 399h1v2h-1zM667 398h1v2h-1zM668 398h1v2h-1zM669 397h1v2h-1zM670 397h1v2h-1zM671 396h1v2h-1zM672 396h1v2h-1zM673 396h1v2h-1zM674 396h1v2h-1zM675 396h1v2h-1zM676 396h1v2h-1zM677 395h1v2h-1zM678 395h1v2h-1zM679 394h1v2h-1zM680 394h1v2h-1zM681 393h1v2h-1zM682 392h1v2h-1zM683 392h1v2h-1zM684 391h1v2h-1zM685 391h1v2h-1zM686 390h1v2h-1zM687 390h1v2h-1zM688 389h1v2h-1zM689 389h1v2h-1zM690 388h1v2h-1zM691 388h1v2h-1zM692 387h1v2h-1zM693 387h1v2h-1zM694 386h1v2h-1zM695 386h1v2h-1zM696 385h1v2h-1zM697 385h1v2h-1zM698 384h1v2h-1zM699 384h1v2h-1zM700 383h1v2h-1zM701 383h1v2h-1zM702 382h1v2h-1zM703 382h1v2h-1zM704 381h1v2h-1zM705 381h1v2h-1zM706 380h1v2h-1zM707 379h1v2h-1zM708 379h1v2h-1zM709 378h1v2h-1zM710 377h1v2h-1zM711 376h1v2h-1zM712 376h1v2h-1zM713 375h1v2h-1zM714 375h1v2h-1zM715 374h1v2h-1zM716 374h1v2h-1zM717 373h1v2h-1zM718 373h1v2h-1zM719 372h1v2h-1zM720 372h1v2h-1zM721 371h1v2h-1zM722 371h1v2h-1zM723 370h1v2h-1zM724 370h1v2h-1zM725 369h1v2h-1zM726 369h1v2h-1zM727 368h1v2h-1zM728 368h1v2h-1zM729 367h1v2h-1zM730 366h1v2h-1zM731 366h1v2h-1zM732 365h1v2h-1zM733 364h1v2h-1zM734 364h1v2h-1zM735 363h1v2h-1zM736 363h1v2h-1zM737 362h1v2h-1zM738 361h1v2h-1zM739 361h1v2h-1zM740 360h1v2h-1zM741 359h1v2h-1zM742 358h1v2h-1zM743 357h1v2h-1zM744 357h1v2h-1zM745 356h1v2h-1zM746 356h1v2h-1zM747 355h1v2h-1zM748 355h1v2h-1zM749 354h1v2h-1zM750 354h1v2h-1zM751 353h1v2h-1zM752 353h1v2h-1zM753 352h1v2h-1zM754 352h1v2h-1zM755 351h1v2h-1zM756 351h1v2h-1zM757 351h1v2h-1zM758 350h1v2h-1zM759 350h1v2h-1zM760 349h1v2h-1zM761 349h1v2h-1zM762 348h1v2h-1zM763 348h1v2h-1zM764 347h1v2h-1zM765 347h1v2h-1zM766 346h1v2h-1zM767 346h1v2h-1zM768 345h1v2h-1zM769 345h1v2h-1zM770 344h1v2h-1zM771 344h1v2h-1zM772 343h1v2h-1zM773 343h1v2h-1zM774 342h1v2h-1zM775 342h1v2h-1zM776 342h1v2h-1zM777 341h1v2h-1zM778 341h1v2h-1zM779 340h1v2h-1z" fill="#2f4f4f"/>
<g shape-rendering="crispEdges">
<rect x="0" y="73" width="1160" height="3" fill="#ff0000"/>
<rect x="0" y="125" width="1160" height="3" fill="#ff0000"/>
<rect x="0" y="181" width="1160" height="3" fill="#ff0000"/>
<rect x="1152" y="71" width="7" height="7" fill="#ff0000"/>
<rect x="1155" y="74" width="1" height="1" fill="#fff"/>
<rect x="1152" y="123" width="7" height="7" fill="#ff0000"/>
<rect x="1155" y="126" width="1" height="1" fill="#fff"/>
</g>
</svg>
<div class="pl" style="top:12px">4496.20</div>
<div class="pl" style="top:61px">4403.10</div>
<div class="pl" style="top:110px">4308.10</div>
<div class="pl" style="top:159px">4215.00</div>
<div class="pl" style="top:208px">4121.90</div>
<div class="pl" style="top:257px">4028.80</div>
<div class="pl" style="top:306px">3935.70</div>
<div class="pl" style="top:355px">3840.70</div>
<div class="pl" style="top:404px">3747.60</div>
<div class="pl" style="top:453px">3654.50</div>
<div class="pl" style="top:502px">3561.40</div>
<div class="pl" style="top:551px">3466.40</div>
<div class="pl" style="top:600px">3373.30</div>
<div class="pl" style="top:649px">3280.20</div>
<div class="pl" style="top:698px">3187.10</div>
<div class="bx" style="top:68px;background:#ff0000">4388.79</div>
<div class="bx" style="top:103px;background:#000">4321.37</div>
<div class="bx" style="top:120px;background:#ff0000">4289.61</div>
<div class="bx" style="top:176px;background:#ff0000">4183.99</div>
<div class="tl" style="left:-18px;letter-spacing:0">4 Sep 20:00</div>
<div class="tl" style="left:79px;letter-spacing:0">10 Sep 16:00</div>
<div class="tl" style="left:175px;letter-spacing:0">16 Sep 12:00</div>
<div class="tl" style="left:271px;letter-spacing:0">22 Sep 10:00</div>
<div class="tl" style="left:367px;letter-spacing:0">26 Sep 08:00</div>
<div class="tl" style="left:463px;letter-spacing:0.3px">2 Oct 04:00</div>
<div class="tl" style="left:559px;letter-spacing:0.3px">8 Oct 00:00</div>
<div class="tl" style="left:655px;letter-spacing:0.3px">13 Oct 22:00</div>
<div class="tl" style="left:751px;letter-spacing:0.3px">17 Oct 20:00</div>
<div class="pl" style="top:728px;left:1162px;letter-spacing:0.5px">67519</div>
<div style="position:absolute;left:1162px;top:898px;width:20px;height:15px;overflow:hidden"><div class="pl" style="left:0;top:0">0</div><div class="pl" style="left:0;top:7px">0</div></div>
<div class="big" style="left:188px;top:20px;color:#ff0000" id="t1">GOLD_H4</div>
<div class="big" style="left:806.5px;top:78px;color:#000080" id="t2">4290~4390</div>
<div class="big" style="left:881.3px;top:126px;color:#ff0000;transform:scaleX(0.94)" id="t3">4185</div>
<div style="position:absolute;left:912px;top:169px;width:11px;height:7px;background:#fff"></div>
<div style="position:absolute;left:928px;top:169px;width:11px;height:7px;background:#fff"></div>
</body></html>
